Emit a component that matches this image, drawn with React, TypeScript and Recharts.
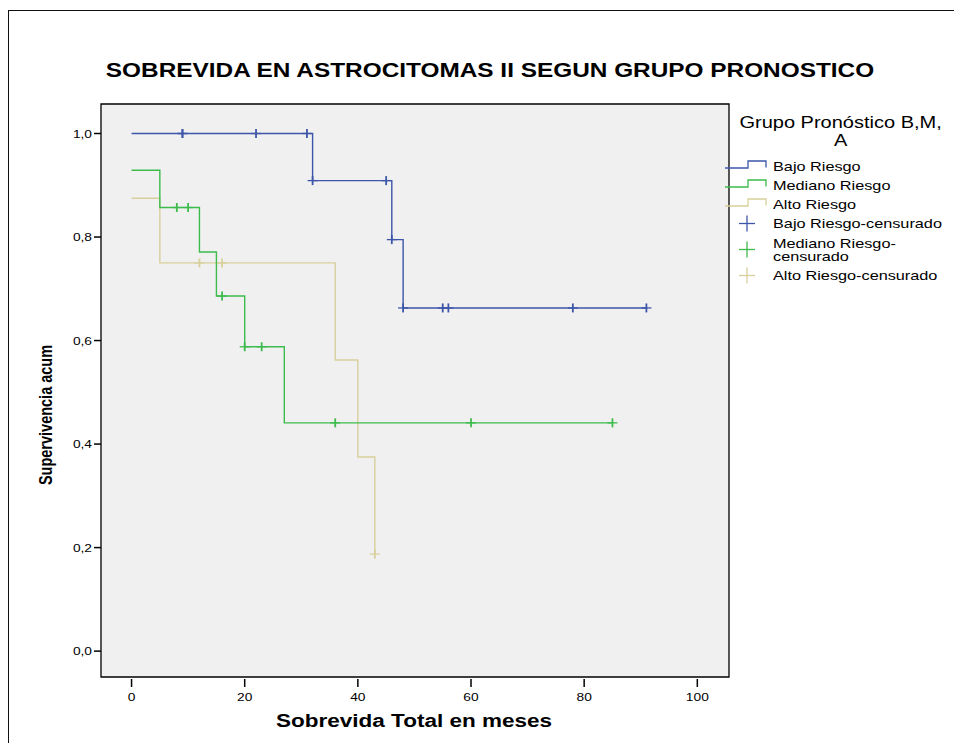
import React from "react";
import {CartesianGrid, ComposedChart, Line, ReferenceArea, Scatter, XAxis, YAxis} from "recharts";

const FONT = "Arial, 'Liberation Sans', sans-serif";
const SX = 1.25; // the original picture is stretched sideways

const BLUE = "#3d56a9";
const GREEN = "#3dbb4d";
const TAN = "#d8d09c";

// Kaplan-Meier steps (time in months, cumulative survival)
const bajoTimes = [0, 32, 46, 48, 91];
const bajoSurv = [1, 0.909, 0.795, 0.663, 0.663];
const medianoTimes = [0, 5, 12, 15, 20, 27, 85];
const medianoSurv = [0.929, 0.857, 0.771, 0.686, 0.588, 0.441, 0.441];
const altoTimes = [0, 5, 36, 40, 43];
const altoSurv = [0.875, 0.75, 0.5625, 0.375, 0.1875];

// censored cases
const bajoCensTimes = [9, 9, 22, 31, 32, 45, 46, 48, 55, 56, 78, 91];
const bajoCensSurv = [1, 1, 1, 1, 0.909, 0.909, 0.795, 0.663, 0.663, 0.663, 0.663, 0.663];
const medianoCensTimes = [8, 10, 16, 20, 23, 36, 60, 85];
const medianoCensSurv = [0.857, 0.857, 0.686, 0.588, 0.588, 0.441, 0.441, 0.441];
const altoCensTimes = [12, 16, 43];
const altoCensSurv = [0.75, 0.75, 0.1875];

const xTicks = [0, 20, 40, 60, 80, 100];
const yTicks = [0, 0.2, 0.4, 0.6, 0.8, 1];
const xDomain = [-5.4, 105.6];
const yDomain = [-0.05, 1.057];

const legendItems = [
    {label: "Bajo Riesgo", color: BLUE, kind: "step"},
    {label: "Mediano Riesgo", color: GREEN, kind: "step"},
    {label: "Alto Riesgo", color: TAN, kind: "step"},
    {label: "Bajo Riesgo-censurado", color: BLUE, kind: "cross"},
    {label: "Mediano Riesgo-\ncensurado", color: GREEN, kind: "cross"},
    {label: "Alto Riesgo-censurado", color: TAN, kind: "cross"},
];

const zip = (t: number[], s: number[]) => t.map((v, i) => ({t: v, s: s[i]}));

const bajo = zip(bajoTimes, bajoSurv);
const mediano = zip(medianoTimes, medianoSurv);
const alto = zip(altoTimes, altoSurv);
const bajoCens = zip(bajoCensTimes, bajoCensSurv);
const medianoCens = zip(medianoCensTimes, medianoCensSurv);
const altoCens = zip(altoCensTimes, altoCensSurv);

const censorShape = (color: string) => (props: any) => {
    const {cx, cy} = props;
    return (
        <g>
            <line x1={cx - 5} x2={cx + 5} y1={cy} y2={cy} stroke={color} strokeWidth={1.3}/>
            <line x1={cx} x2={cx} y1={cy - 4.5} y2={cy + 4.5} stroke={color} strokeWidth={1.8}/>
        </g>
    );
};

// tickSize=0, tickMargin=0: x/y given here are the edge of the plot box
function XTick(props: any) {
    const {x, y, payload} = props;
    return (
        <g>
            <line x1={x} x2={x} y1={y + 2} y2={y + 10} stroke="#000" strokeWidth={1.5}/>
            <text transform={`translate(${x},${y + 24}) scale(${SX},1)`} textAnchor="middle"
                  fontSize={11} fontFamily={FONT} fill="#000">{payload.value}</text>
        </g>
    );
}

function YTick(props: any) {
    const {x, y, payload} = props;
    const label = Number(payload.value).toFixed(1).replace(".", ",");
    return (
        <g>
            <line x1={x - 7} x2={x} y1={y} y2={y} stroke="#000" strokeWidth={1.5}/>
            <text transform={`translate(${x - 9},${y + 4}) scale(${SX},1)`} textAnchor="end"
                  fontSize={11} fontFamily={FONT} fill="#000">{label}</text>
        </g>
    );
}

function LegendSymbol({kind, color}: { kind: string; color: string }) {
    if (kind === "step") {
        return (
            <svg width={45} height={19} style={{display: "block"}}>
                <path d="M0,11 H23 V4 H41 V10.5" fill="none" stroke={color} strokeWidth={1.3}/>
            </svg>
        );
    }
    return (
        <svg width={45} height={19} style={{display: "block", overflow: "visible"}}>
            <line x1={14} x2={30} y1={9.5} y2={9.5} stroke={color} strokeWidth={1.3}/>
            <line x1={22} x2={22} y1={1.5} y2={17.5} stroke={color} strokeWidth={1.3}/>
        </svg>
    );
}

function LegendBox() {
    return (
        <div style={{position: "absolute", left: 725, top: 114, width: 229, fontFamily: FONT, color: "#000"}}>
            <div style={{textAlign: "center", fontSize: 16, lineHeight: "18px", transform: `scaleX(${SX})`,
                transformOrigin: "115px 0", marginBottom: 7, paddingLeft: 2}}>
                Grupo Pronóstico B,M,<br/>A
            </div>
            {legendItems.map((it) => {
                const twoLines = it.label.includes("\n");
                return (
                    <div key={it.label} style={{display: "flex", alignItems: "center", height: twoLines ? 33 : 19}}>
                        <LegendSymbol kind={it.kind} color={it.color}/>
                        <div style={{marginLeft: 3, fontSize: 13, lineHeight: "13px", whiteSpace: "pre",
                            transform: `scaleX(${SX})`, transformOrigin: "0 0"}}>
                            {it.label}
                        </div>
                    </div>
                );
            })}
        </div>
    );
}

export default function App() {
    return (
        <div style={{position: "absolute", left: 0, top: 0, width: 954, height: 743, overflow: "hidden",
            background: "#fff", fontFamily: FONT}}>
            <div style={{position: "absolute", left: 8, top: 10, width: 2000, height: 2000,
                borderLeft: "1px solid #111", borderTop: "1px solid #111"}}/>
            <div style={{position: "absolute", left: 0, top: 61, width: 980, textAlign: "center",
                fontSize: 19.5, lineHeight: "19.5px", fontWeight: "bold", transform: `scaleX(${SX})`,
                transformOrigin: "490px 0"}}>
                SOBREVIDA EN ASTROCITOMAS II SEGUN GRUPO PRONOSTICO
            </div>
            <div style={{position: "absolute", left: 0, top: 0}}>
                <ComposedChart width={954} height={743} margin={{top: 104, right: 225, bottom: 36, left: 41}}>
                    <CartesianGrid fill="#f0f0f0" horizontal={false} vertical={false}/>
                    <XAxis type="number" dataKey="t" domain={xDomain} ticks={xTicks} interval={0} height={30}
                           tickSize={0} tickMargin={0} axisLine={false} tickLine={false} tick={XTick}
                           allowDataOverflow/>
                    <YAxis type="number" domain={yDomain} ticks={yTicks} interval={0} width={60}
                           tickSize={0} tickMargin={0} axisLine={false} tickLine={false} tick={YTick}
                           allowDataOverflow/>
                    <ReferenceArea x1={xDomain[0]} x2={xDomain[1]} y1={yDomain[0]} y2={yDomain[1]}
                                   fill="none" stroke="#000" strokeWidth={1.3} ifOverflow="visible"/>
                    <Line data={alto} dataKey="s" type="stepAfter" stroke={TAN} strokeWidth={1.4} dot={false}
                          isAnimationActive={false}/>
                    <Line data={mediano} dataKey="s" type="stepAfter" stroke={GREEN} strokeWidth={1.4} dot={false}
                          isAnimationActive={false}/>
                    <Line data={bajo} dataKey="s" type="stepAfter" stroke={BLUE} strokeWidth={1.4} dot={false}
                          isAnimationActive={false}/>
                    <Scatter data={altoCens} dataKey="s" shape={censorShape(TAN)} isAnimationActive={false}/>
                    <Scatter data={medianoCens} dataKey="s" shape={censorShape(GREEN)} isAnimationActive={false}/>
                    <Scatter data={bajoCens} dataKey="s" shape={censorShape(BLUE)} isAnimationActive={false}/>
                </ComposedChart>
            </div>
            <div style={{position: "absolute", left: 0, top: 712, width: 828, textAlign: "center",
                fontSize: 18, lineHeight: "18px", fontWeight: "bold", transform: `scaleX(${SX})`,
                transformOrigin: "414px 0", whiteSpace: "nowrap"}}>
                Sobrevida Total en meses
            </div>
            <svg width={80} height={743} style={{position: "absolute", left: 0, top: 0}}>
                <text transform={`translate(52,415) scale(${SX},1) rotate(-90)`} textAnchor="middle"
                      fontSize={14.5} fontWeight="bold" fontFamily={FONT} fill="#000">
                    Supervivencia acum
                </text>
            </svg>
            <LegendBox/>
        </div>
    );
}
